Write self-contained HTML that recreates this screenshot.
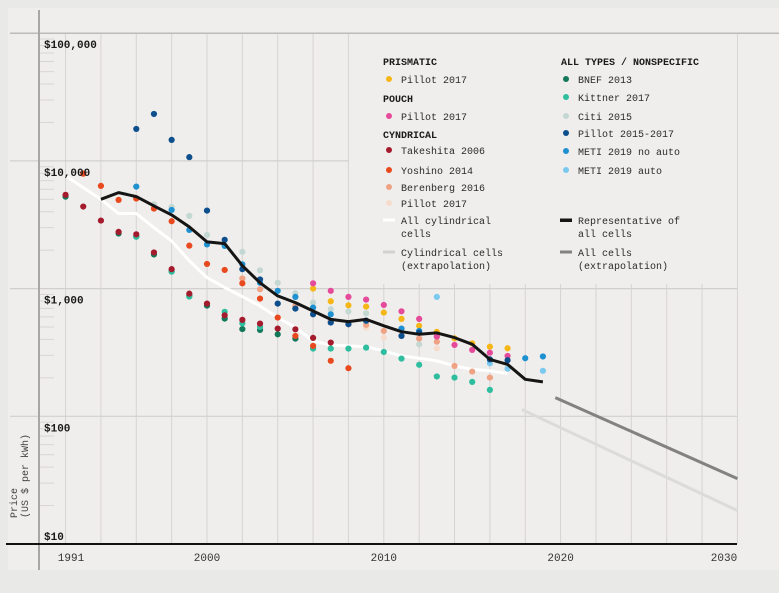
<!DOCTYPE html>
<html><head><meta charset="utf-8"><style>
html,body{margin:0;padding:0;background:#e9e9e7;}
svg{display:block;font-family:"Liberation Mono",monospace;}
</style></head><body>
<svg id="chart" width="779" height="593" viewBox="0 0 779 593" xmlns="http://www.w3.org/2000/svg">
<rect x="8" y="8" width="771" height="562" fill="#f0eeec"/>
<g id="grid"></g>
<g id="ext"></g>
<g id="lines"></g>
<g id="dots"></g>
<g id="axes"></g>
<g id="legend"></g>
</svg>
<script>
const yearTicks=[1991,2000,2010,2020,2030];
const priceTicks=[100000,10000,1000,100,10];
const priceLabels=["$100,000","$10,000","$1,000","$100","$10"];

const prismaticYears=[2006,2007,2008,2009,2010,2011,2012,2013,2014,2015,2016,2017];
const prismaticVals=[1000,796,740,723,649,579,511,458,408,373,351,341];
const pouchYears=[2006,2007,2008,2009,2010,2011,2012,2013,2014,2015,2016,2017];
const pouchVals=[1100,960,861,820,745,664,579,421,362,331,315,297];
const takeshitaYears=[1992,1993,1994,1995,1996,1997,1998,1999,2000,2001,2002,2003,2004,2005,2006,2007];
const takeshitaVals=[5420,4390,3410,2780,2660,1920,1420,913,763,618,569,532,486,480,411,378];
const yoshinoYears=[1993,1994,1995,1996,1997,1998,1999,2000,2001,2002,2003,2004,2005,2006,2007,2008];
const yoshinoVals=[7950,6370,4950,5070,4230,3370,2170,1560,1400,1100,835,593,426,356,272,238];
const berenbergYears=[2002,2003,2005,2007,2008,2009,2010,2011,2012,2013,2014,2015,2016];
const berenbergVals=[1200,987,732,559,526,520,466,426,406,384,248,224,201];
const pillotCylYears=[2009,2010,2013];
const pillotCylVals=[495,414,340];
const bnefYears=[1992,1995,1996,1997,1998,1999,2000,2001,2002,2003,2004,2005];
const bnefVals=[5250,2700,2550,1850,1360,881,736,582,482,475,439,406];
const kittnerYears=[1996,1998,1999,2001,2002,2003,2006,2007,2008,2009,2010,2011,2012,2013,2014,2015,2016];
const kittnerVals=[2550,1360,866,658,535,501,339,339,339,345,319,283,253,205,201,186,161];
const citiYears=[1997,1998,1999,2000,2002,2003,2004,2005,2006,2007,2008,2009,2012];
const citiVals=[4570,4360,3710,2630,1940,1390,1110,919,777,689,661,641,366];
const pillot1517Years=[1996,1997,1998,1999,2000,2001,2002,2003,2004,2005,2006,2007,2008,2009,2011,2012,2016,2017];
const pillot1517Vals=[17800,23300,14600,10700,4080,2410,1420,1180,763,697,629,542,526,562,426,452,279,275];
const metiNoAutoYears=[1996,1998,1999,2000,2001,2002,2003,2004,2005,2006,2007,2009,2011,2012,2018,2019];
const metiNoAutoVals=[6290,4130,2880,2220,2160,1550,1110,960,861,710,629,559,486,466,285,294];
const metiAutoYears=[2013,2016,2017,2019];
const metiAutoVals=[861,260,236,227];

const repYears=[1994,1995,1996,1997,1998,1999,2000,2001,2002,2003,2004,2005,2006,2007,2008,2009,2010,2011,2012,2013,2014,2015,2016,2017,2018,2019];
const repVals=[5000,5650,5250,4440,3780,3040,2320,2250,1510,1110,877,777,668,574,552,574,511,460,439,450,413,366,279,255,195,186];
const cylYears=[1992,1993,1994,1995,1996,1997,1998,1999,2000,2001,2002,2003,2004,2005,2006,2007,2008,2009,2010,2011,2012,2013,2014,2015,2016,2017];
const cylVals=[7630,6180,5000,3870,3870,3000,2360,1650,1220,1020,866,732,593,495,389,362,356,351,325,297,285,272,248,233,227,216];
const allExtYears=[2019.7,2030];
const allExtVals=[140,32.5];
const cylExtYears=[2017.8,2030];
const cylExtVals=[113,18.3];

const NS="http://www.w3.org/2000/svg";
const X=y=>207+(y-2000)*17.68;
const Y=v=>544-(Math.log10(v)-1)*127.7;
function mk(tag,attrs,parent){const e=document.createElementNS(NS,tag);for(const k in attrs)e.setAttribute(k,attrs[k]);parent.appendChild(e);return e;}

const grid=document.getElementById('grid');
for(let yr=1992;yr<=2030;yr+=2){
  const l=mk('line',{x1:X(yr),x2:X(yr),y1:33,y2:544,stroke:'#d6d4d2','stroke-width':1},grid);
  
  
}
priceTicks.forEach((v,i)=>{
  if(v===10)return;
  const x2=(v===10000)?349:(v===100000?779:737);
  const l=mk('line',{x1:10,x2:x2,y1:Y(v),y2:Y(v),stroke:v===100000?'#bdbbb9':'#d2d0ce','stroke-width':v===100000?1.5:1.2},grid);
  
  
});
for(let d=10;d<100000;d*=10){for(let m=2;m<=9;m++){
  const l=mk('line',{x1:40,x2:54,y1:Y(d*m),y2:Y(d*m),stroke:'#d8d6d4','stroke-width':1},grid);
  
  
}}
// legend cover
const cover=mk('rect',{x:351,y:34,width:386,height:250,fill:'#f0eeec'},grid);



const ext=document.getElementById('ext');
function poly(years,vals,color,w,parent,name){
  const pts=years.map((y,i)=>X(y).toFixed(1)+','+Y(vals[i]).toFixed(1)).join(' ');
  const p=mk('polyline',{points:pts,fill:'none',stroke:color,'stroke-width':w,'stroke-linejoin':'round','stroke-linecap':'butt'},parent);
  
  
}
poly(cylExtYears,cylExtVals,'#dcdbd9',3,ext,'cylindrical-extrapolation-line');
poly(allExtYears,allExtVals,'#838281',3,ext,'all-cells-extrapolation-line');

const lines=document.getElementById('lines');
poly(cylYears,cylVals,'#ffffff',3,lines,'all-cylindrical-line');

const series=[
 [citiYears,citiVals,'#c3d8d3','citi-2015'],
 [pillotCylYears,pillotCylVals,'#f6dccd','pillot-2017-cylindrical'],
 [berenbergYears,berenbergVals,'#f0a285','berenberg-2016'],
 [bnefYears,bnefVals,'#13775a','bnef-2013'],
 [kittnerYears,kittnerVals,'#2ebd9e','kittner-2017'],
 [takeshitaYears,takeshitaVals,'#a51b2e','takeshita-2006'],
 [yoshinoYears,yoshinoVals,'#e8491f','yoshino-2014'],
 [prismaticYears,prismaticVals,'#f5b617','pillot-2017-prismatic'],
 [pouchYears,pouchVals,'#e64b9b','pillot-2017-pouch'],
 [metiAutoYears,metiAutoVals,'#7cc9ef','meti-2019-auto'],
 [metiNoAutoYears,metiNoAutoVals,'#1f90d0','meti-2019-no-auto'],
 [pillot1517Years,pillot1517Vals,'#0d4f8d','pillot-2015-2017'],
];
const dots=document.getElementById('dots');
series.forEach(s=>{s[0].forEach((yr,i)=>{
  const c=mk('circle',{cx:X(yr),cy:Y(s[1][i]),r:3.1,fill:s[2]},dots);
  
  
});});
poly(repYears,repVals,'#151515',3,dots,'representative-line');

const axes=document.getElementById('axes');
const la=mk('line',{x1:39,x2:39,y1:10,y2:570,stroke:'#a9a7a5','stroke-width':2},axes);


const ba=mk('line',{x1:6,x2:737,y1:544,y2:544,stroke:'#111','stroke-width':2},axes);


priceTicks.forEach((v,i)=>{
  const t=mk('text',{x:44,y:Y(v)+(v===10?-4:15),'font-size':11,'font-weight':'bold',fill:'#1a1a1a'},axes);
  t.textContent=priceLabels[i];
  
  
});
yearTicks.forEach(yr=>{
  const x=yr===1991?71:(yr===2030?724:X(yr));
  const t=mk('text',{x:x,y:561,'font-size':11,'text-anchor':'middle',fill:'#333'},axes);
  t.textContent=String(yr);
  
  
});
const yt=mk('text',{transform:'translate(17,518) rotate(-90)','font-size':10,fill:'#444'},axes);


const ts1=mk('tspan',{x:0,y:0},yt);ts1.textContent='Price';
const ts2=mk('tspan',{x:0,y:11},yt);ts2.textContent='(US $ per kWh)';

const lg=document.getElementById('legend');
function head(x,y,txt){const t=mk('text',{x:x,y:y+4,'font-size':10,'font-weight':'bold',fill:'#1a1a1a'},lg);t.textContent=txt;}
function item(x,y,color,txt,kind,txt2){
  const g=mk('g',{},lg);
  
  
  if(kind==='dot')mk('circle',{cx:x,cy:y,r:3,fill:color},g);
  else mk('rect',{x:x-6,y:y-1.5,width:12,height:kind==='thick'?3.5:3,fill:color},g);
  const t=mk('text',{x:x+12,y:y+4,'font-size':10,fill:'#2a2a2a'},g);t.textContent=txt;
  if(txt2){const t2=mk('text',{x:x+12,y:y+17,'font-size':10,fill:'#2a2a2a'},g);t2.textContent=txt2;}
}
head(383,61,'PRISMATIC');
item(389,79,'#f5b617','Pillot 2017','dot');
head(383,98,'POUCH');
item(389,116,'#e64b9b','Pillot 2017','dot');
head(383,134,'CYNDRICAL');
item(389,150,'#a51b2e','Takeshita 2006','dot');
item(389,170,'#e8491f','Yoshino 2014','dot');
item(389,187,'#f0a285','Berenberg 2016','dot');
item(389,203,'#f6dccd','Pillot 2017','dot');
item(389,220,'#ffffff','All cylindrical','bar','cells');
item(389,252,'#d3d2d0','Cylindrical cells','bar','(extrapolation)');
head(561,61,'ALL TYPES / NONSPECIFIC');
item(566,79,'#13775a','BNEF 2013','dot');
item(566,97,'#2ebd9e','Kittner 2017','dot');
item(566,116,'#c3d8d3','Citi 2015','dot');
item(566,133,'#0d4f8d','Pillot 2015-2017','dot');
item(566,151,'#1f90d0','METI 2019 no auto','dot');
item(566,170,'#7cc9ef','METI 2019 auto','dot');
item(566,220,'#151515','Representative of','thick','all cells');
item(566,252,'#838281','All cells','bar','(extrapolation)');
</script>
</body></html>
